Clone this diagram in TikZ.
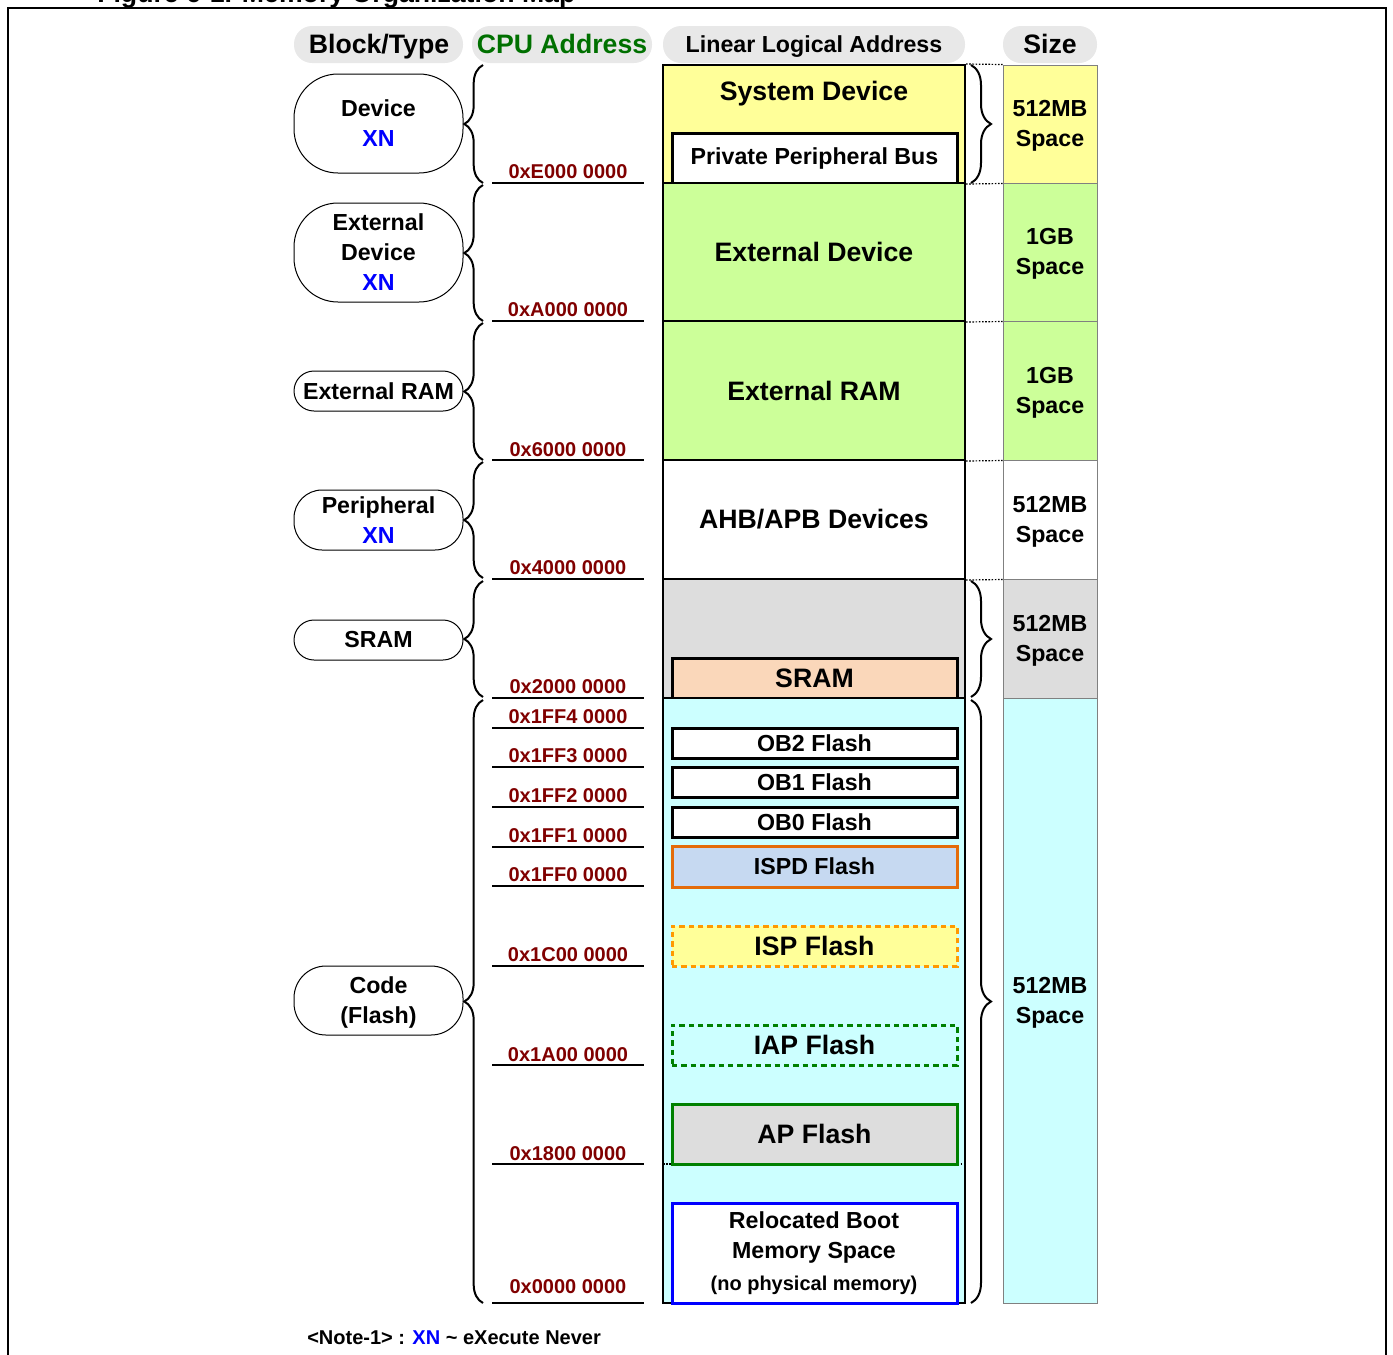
\documentclass[tikz,border=0pt]{standalone}
\usepackage{fontspec}
\setmainfont{Liberation Sans}
\usetikzlibrary{fit,decorations.pathreplacing}

\definecolor{cyel}{HTML}{FFFF99}
\definecolor{cgrn}{HTML}{CCFF99}
\definecolor{cgry}{HTML}{DDDDDD}
\definecolor{ccyn}{HTML}{CCFFFF}
\definecolor{cpch}{HTML}{FAD7BA}
\definecolor{cblu}{HTML}{C6D9F1}
\definecolor{corg}{HTML}{E46C0A}
\definecolor{corgd}{HTML}{FF9900}
\definecolor{cdg}{HTML}{008000}
\definecolor{caddr}{HTML}{800000}
\definecolor{chdr}{HTML}{E8E8E8}
\definecolor{ccpu}{HTML}{007000}
\definecolor{xnb}{HTML}{0000FF}
\definecolor{cszb}{HTML}{808080}

\newcommand{\fntL}{\fontsize{20}{24}\selectfont\bfseries}
\newcommand{\fntM}{\fontsize{17.4}{22.5}\selectfont\bfseries}
\newcommand{\fntS}{\fontsize{15}{18}\selectfont\bfseries}

\begin{document}
\begin{tikzpicture}[x=0.75pt,y=-0.75pt,
  region/.style={draw=black, line width=1.5pt, inner sep=0pt},
  inbox/.style={draw=black, line width=2.25pt, inner sep=0pt, fill=white},
  szcell/.style={draw=cszb, line width=0.75pt, inner sep=0pt},
  hdr/.style={fill=chdr, rounded corners=13.5pt, inner sep=0pt},
  pill/.style={draw=black, line width=0.75pt, fill=white, inner sep=0pt},
  lbl/.style={inner sep=0pt, align=center},
  tL/.style={lbl, font=\fntL},
  tM/.style={lbl, font=\fntM},
  tS/.style={lbl, font=\fntS},
  addr/.style={font=\fntS, text=caddr, inner sep=0pt},
  aline/.style={line width=1.1pt},
  brcL/.style={decorate, decoration={brace, amplitude=14pt}, line width=1.5pt},
  brcR/.style={decorate, decoration={brace, amplitude=15pt}, line width=1.5pt},
  dotl/.style={line width=0.9pt, dash pattern=on 1.2pt off 1.2pt},
  dashbox/.style={line width=2.25pt, dash pattern=on 4pt off 3pt}
]
\useasboundingbox (0,0) rectangle (1393,1354);

% title (cut off) and frame
\node[anchor=base west, font=\fntL, inner sep=0pt] (title) at (97,2) {Figure 6-1. Memory Organization Map};
\draw[line width=1.5pt] (8,1380) -- (8,8) -- (1386,8) -- (1386,1380);

% headers
\node[hdr, fit={(294,26)(463,63)}] (hblock) {};
\node[tL, anchor=base] (thblock) at (379,53) {Block/Type};
\node[hdr, fit={(472,26)(652,63)}] (hcpu) {};
\node[tL, anchor=base, text=ccpu] (thcpu) at (562,53) {CPU Address};
\node[hdr, fit={(663,26)(965,63)}] (hlin) {};
\node[tM, anchor=base] (thlin) at (814,52) {Linear Logical Address};
\node[hdr, fit={(1003,26)(1097,63)}] (hsize) {};
\node[tL, anchor=base] (thsize) at (1050,53) {Size};

% left pills
\node[pill, rounded corners=33pt, fit={(294,74)(463,173)}] (pdev) {};
\node[tM] (tpdev) at (pdev.center) {Device\\\textcolor{xnb}{XN}};
\node[pill, rounded corners=33pt, fit={(294,203)(463,302)}] (pextd) {};
\node[tM] (tpextd) at (pextd.center) {External\\Device\\\textcolor{xnb}{XN}};
\node[pill, rounded corners=15pt, fit={(294,371)(463,411)}] (pextr) {};
\node[tM] (tpextr) at (pextr.center) {External RAM};
\node[pill, rounded corners=21pt, fit={(294,490)(463,550)}] (pperi) {};
\node[tM] (tpperi) at (pperi.center) {Peripheral\\\textcolor{xnb}{XN}};
\node[pill, rounded corners=15pt, fit={(294,620)(463,660)}] (psram) {};
\node[tM] (tpsram) at (psram.center) {SRAM};
\node[pill, rounded corners=24pt, fit={(294,966)(463,1035)}] (pcode) {};
\node[tM] (tpcode) at ([yshift=-1.5pt]pcode.center) {Code\\(Flash)};

% left braces
\draw[brcL] (483,183) -- (483,65);
\draw[brcL] (483,321) -- (483,185);
\draw[brcL] (483,460) -- (483,323);
\draw[brcL] (483,578) -- (483,462);
\draw[brcL] (483,697) -- (483,581);
\draw[brcL] (483,1303) -- (483,700);

% address labels and lines
\node[addr] (aE) at (568,172) {0xE000 0000};
\node[addr] (aA) at (568,310) {0xA000 0000};
\node[addr] (a6) at (568,450) {0x6000 0000};
\node[addr] (a4) at (568,568) {0x4000 0000};
\node[addr] (a2) at (568,687) {0x2000 0000};
\node[addr] (aF4) at (568,717) {0x1FF4 0000};
\node[addr] (aF3) at (568,756) {0x1FF3 0000};
\node[addr] (aF2) at (568,796) {0x1FF2 0000};
\node[addr] (aF1) at (568,836) {0x1FF1 0000};
\node[addr] (aF0) at (568,875) {0x1FF0 0000};
\node[addr] (aC) at (568,955) {0x1C00 0000};
\node[addr] (aA1) at (568,1055) {0x1A00 0000};
\node[addr] (a18) at (568,1154) {0x1800 0000};
\node[addr] (a0) at (568,1287) {0x0000 0000};
\foreach \yy in {183,321,460,579,698,728,767,807,847,886,966,1065,1164,1303}
  \draw[aline] (492,\yy) -- (644,\yy);

% linear logical address column
\node[region, fill=cyel, fit={(663,65)(965,183)}] (rsys) {};
\node[tL] (tsys) at (814,94) {System Device};
\node[inbox, fit={(672,133)(957,183)}] (ppb) {};
\node[tM] (tppb) at (ppb.center) {Private Peripheral Bus};
\node[region, fill=cgrn, fit={(663,183)(965,321)}] (rext) {};
\node[tL] (trext) at (rext.center) {External Device};
\node[region, fill=cgrn, fit={(663,321)(965,460)}] (rram) {};
\node[tL] (trram) at (rram.center) {External RAM};
\node[region, fill=white, fit={(663,460)(965,579)}] (rahb) {};
\node[tL] (trahb) at (rahb.center) {AHB/APB Devices};
\node[region, fill=cgry, fit={(663,579)(965,698)}] (rsram) {};
\node[inbox, fill=cpch, fit={(672,658)(957,698)}] (bsram) {};
\node[tL] (tbsram) at (bsram.center) {SRAM};
\node[region, fill=ccyn, fit={(663,698)(965,1303)}] (rcode) {};
\coordinate (dl) at (663,1164);
\coordinate (dr) at (965,1164);
\draw[dotl] (dl) -- (dr);
\node[inbox, fit={(672,728)(957,758)}] (ob2) {};
\node[tM] (tob2) at (ob2.center) {OB2 Flash};
\node[inbox, fit={(672,767)(957,797)}] (ob1) {};
\node[tM] (tob1) at (ob1.center) {OB1 Flash};
\node[inbox, fit={(672,807)(957,837)}] (ob0) {};
\node[tM] (tob0) at (ob0.center) {OB0 Flash};
\node[inbox, draw=corg, fill=cblu, fit={(672,846)(957,887)}] (ispd) {};
\node[tM] (tispd) at (ispd.center) {ISPD Flash};
\node[inbox, dashbox, draw=corgd, fill=cyel, fit={(672,926)(957,966)}] (isp) {};
\node[tL] (tisp) at (isp.center) {ISP Flash};
\node[inbox, dashbox, draw=cdg, fill=ccyn, fit={(672,1025)(957,1065)}] (iap) {};
\node[tL] (tiap) at (iap.center) {IAP Flash};
\node[inbox, draw=cdg, fill=cgry, fit={(672,1104)(957,1164)}] (ap) {};
\node[tL] (tap) at (ap.center) {AP Flash};
\node[inbox, draw=xnb, fill=white, fit={(672,1203)(957,1303)}] (reloc) {};
\node[tM] (treloc) at (814,1237) {Relocated Boot\\Memory Space};
\node[tS] (treloc2) at (814,1285) {(no physical memory)};

% size column
\node[szcell, fill=cyel, fit={(1003,65)(1097,183)}] (s1) {};
\node[tM] (ts1) at ([yshift=-1.5pt]s1.center) {512MB\\Space};
\node[szcell, fill=cgrn, fit={(1003,183)(1097,321)}] (s2) {};
\node[tM] (ts2) at ([yshift=-1.5pt]s2.center) {1GB\\Space};
\node[szcell, fill=cgrn, fit={(1003,321)(1097,460)}] (s3) {};
\node[tM] (ts3) at ([yshift=-1.5pt]s3.center) {1GB\\Space};
\node[szcell, fill=white, fit={(1003,460)(1097,579)}] (s4) {};
\node[tM] (ts4) at ([yshift=-1.5pt]s4.center) {512MB\\Space};
\node[szcell, fill=cgry, fit={(1003,579)(1097,698)}] (s5) {};
\node[tM] (ts5) at ([yshift=-1.5pt]s5.center) {512MB\\Space};
\node[szcell, fill=ccyn, fit={(1003,698)(1097,1303)}] (s6) {};
\node[tM] (ts6) at ([yshift=-1.5pt]s6.center) {512MB\\Space};

% dotted connectors between columns
\draw[dotl] (rsys.north east) -- (s1.north west);
\draw[dotl] (rsys.south east) -- (s1.south west);
\draw[dotl] (rext.south east) -- (s2.south west);
\draw[dotl] (rram.south east) -- (s3.south west);
\draw[dotl] (rahb.south east) -- (s4.south west);

% right braces
\draw[brcR] (971,65) -- (971,183);
\draw[brcR] (971,581) -- (971,697);
\draw[brcR] (971,700) -- (971,1303);

% note
\node[anchor=west, font=\fntS, inner sep=0pt] (note) at (307,1338) {<Note-1> : \textcolor{xnb}{XN} \textasciitilde{} eXecute Never};
\end{tikzpicture}
\end{document}
